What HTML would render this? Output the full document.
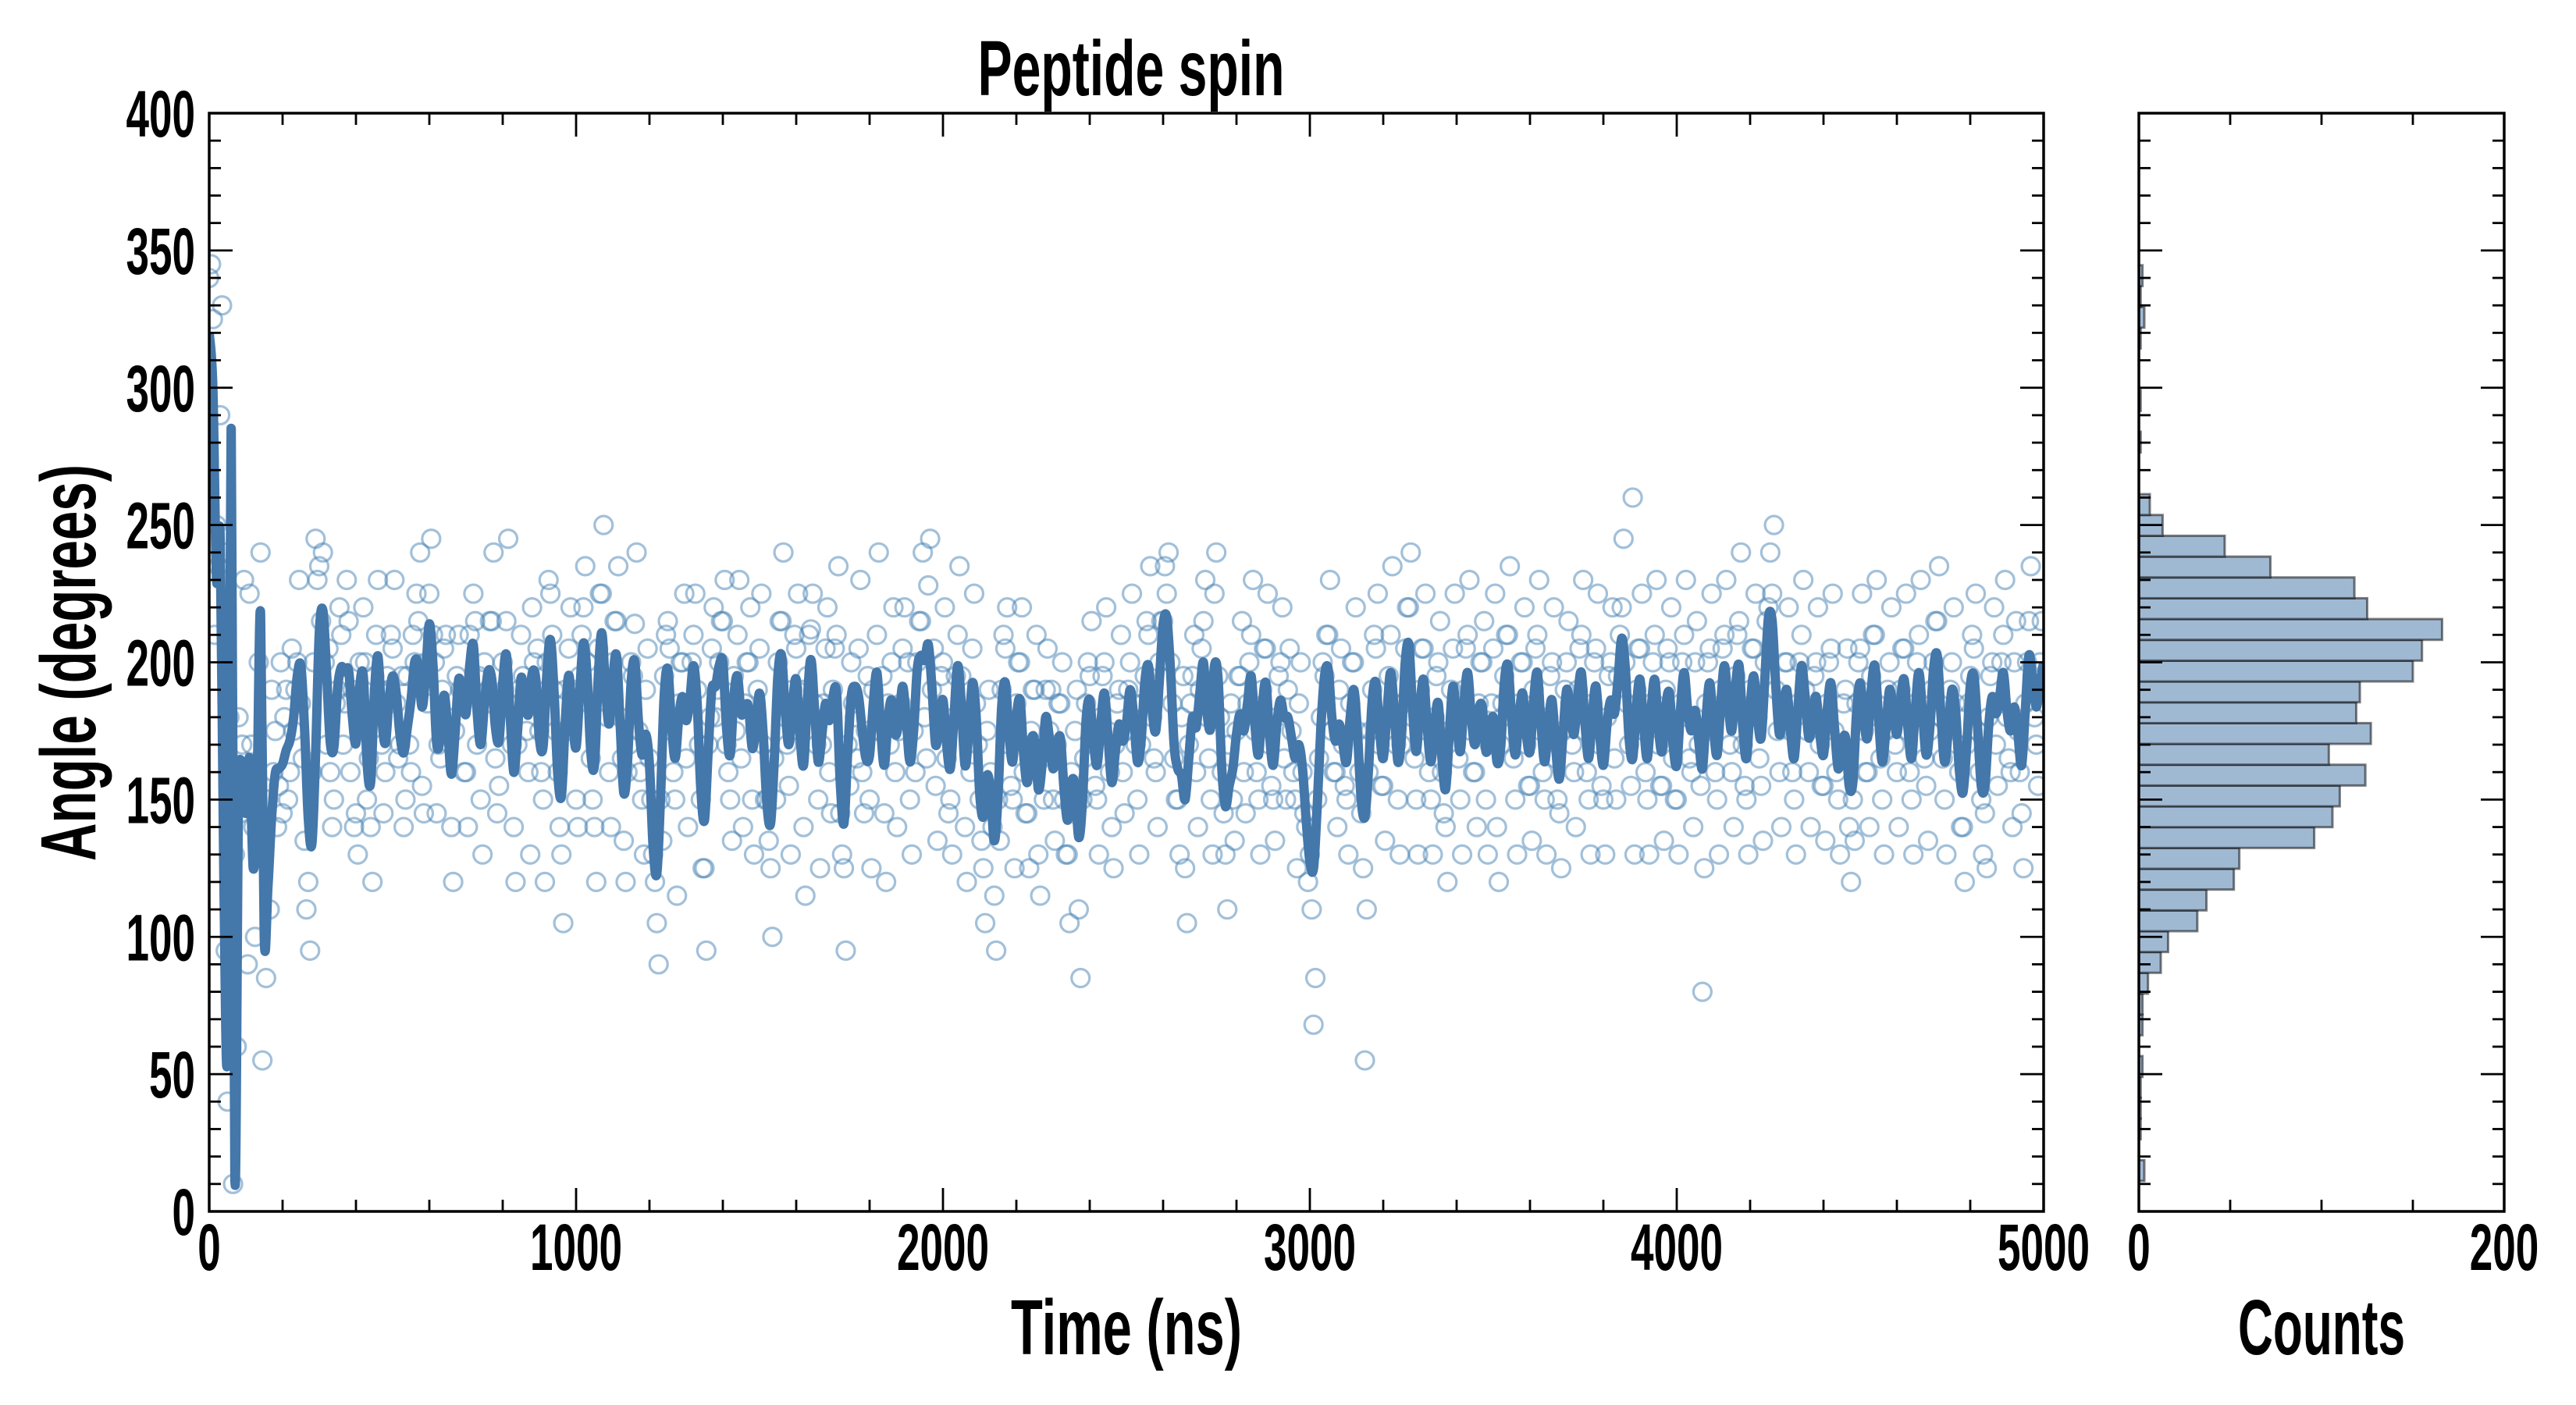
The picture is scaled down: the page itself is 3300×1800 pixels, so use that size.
<!DOCTYPE html>
<html><head><meta charset="utf-8"><title>Peptide spin</title>
<style>
html,body{margin:0;padding:0;background:#fff;}
svg{display:block;}
text{font-family:"Liberation Sans Narrow","Liberation Sans",sans-serif;font-weight:bold;fill:#000;}
</style></head>
<body>
<svg id="chart" width="3300" height="1800" viewBox="0 0 3300 1800" xmlns="http://www.w3.org/2000/svg">
<defs><clipPath id="mainclip"><rect x="268" y="145" width="2350" height="1407"/></clipPath></defs>
<text x="1449" y="122" font-size="100" text-anchor="middle" textLength="393" lengthAdjust="spacingAndGlyphs">Peptide spin</text>
<text x="1443" y="1735" font-size="100" text-anchor="middle" textLength="296" lengthAdjust="spacingAndGlyphs">Time (ns)</text>
<text transform="translate(122,849) rotate(-90)" x="0" y="0" font-size="100" text-anchor="middle" textLength="508" lengthAdjust="spacingAndGlyphs">Angle (degrees)</text>
<text x="2974" y="1735" font-size="100" text-anchor="middle" textLength="214" lengthAdjust="spacingAndGlyphs">Counts</text>
<g id="mainG"></g>
<g id="histG"></g>
</svg>
<script>
const lineStep = 10;
const lineValues = [
320,300,230,245,120,60,285,12,150,160,
145,165,125,150,218,100,112,148,165,160,
160,172,168,178,195,212,175,140,118,160,
228,226,195,168,152,205,200,188,210,180,
152,198,216,150,140,195,222,170,160,192,
200,188,178,150,190,175,205,215,160,200,
222,212,150,170,200,182,140,175,205,190,
165,205,220,180,150,200,188,210,168,160,
198,214,185,140,175,206,190,160,214,195,
172,150,205,220,188,160,130,185,208,180,
150,196,216,200,165,140,205,224,190,160,
200,215,180,135,160,198,214,175,150,190,
165,130,106,150,195,210,175,150,185,200,
165,185,210,190,150,125,170,205,180,200,
215,170,150,195,210,165,185,200,150,175,
205,170,150,125,165,200,215,180,155,190,
205,175,140,195,212,185,150,170,205,160,
190,210,145,125,170,200,180,205,160,175,
150,190,210,175,145,185,200,160,175,205,
180,150,175,200,215,180,228,190,155,180,
200,165,150,180,210,195,140,175,205,185,
150,125,175,160,115,150,190,205,170,150,
185,200,160,145,175,190,130,165,190,175,
150,170,185,150,130,160,175,110,150,185,
195,170,150,180,200,175,140,170,190,160,
175,200,185,150,170,195,210,180,160,200,
215,225,200,165,150,180,125,170,195,160,
190,215,180,150,225,195,160,130,170,150,
175,195,160,185,210,175,150,190,205,170,
150,180,200,165,190,175,150,185,160,140,
130,110,150,180,195,210,175,160,190,170,
150,185,200,175,145,135,160,190,205,170,
155,180,210,185,150,170,205,220,180,150,
190,205,175,150,180,200,160,140,175,205,
180,150,190,210,175,160,185,200,150,170,
205,140,170,195,210,180,150,185,200,170,
155,190,210,175,150,180,200,165,145,175,
200,185,160,190,210,175,150,185,205,170,
150,180,200,165,195,220,200,170,150,190,
205,175,150,185,210,170,155,190,200,165,
150,185,210,180,160,200,170,145,185,205,
175,150,190,210,185,160,195,215,170,150,
190,205,180,155,200,220,225,190,160,185,
200,175,150,185,210,190,160,180,200,170,
155,185,205,175,150,170,190,140,150,185,
205,175,160,195,210,180,150,175,200,185,
160,190,205,175,150,185,210,180,155,175,
200,215,180,150,175,200,185,160,140,170,
195,205,175,150,145,180,200,170,185,210,
180,160,200,175,145,185,215,195,170,200,
200];
const scatterStep = 5;
const scatterValues = [
340,345,325,210,250,235,290,330,240,95,40,180,150,10,130,60,180,145,170,230,
150,90,225,170,140,100,160,200,240,55,130,85,150,110,190,160,175,140,155,200,
145,180,190,150,160,205,175,190,200,230,185,165,135,110,120,95,160,200,245,230,
235,215,240,200,170,205,160,140,150,185,190,220,210,170,185,230,215,160,190,140,
145,130,200,175,220,200,150,165,140,120,195,210,230,190,170,145,160,195,190,210,
205,230,185,165,170,195,140,150,195,170,160,210,200,225,215,240,155,145,200,185,
225,245,210,200,145,170,165,190,205,210,180,175,140,120,175,195,210,190,185,160,
160,140,210,190,225,215,170,195,150,130,200,185,190,215,215,240,165,145,155,185,
200,190,215,245,185,170,140,120,170,190,210,195,185,175,160,130,220,200,190,205,
175,160,150,120,200,230,225,210,190,175,160,140,130,105,190,175,205,220,180,190,
150,140,195,210,220,235,200,185,165,150,140,120,205,225,225,250,190,180,160,140,
200,215,215,235,180,165,135,120,160,170,200,195,214,240,175,160,150,130,190,205,
165,150,130,120,105,90,150,135,195,210,215,205,175,160,150,115,185,200,200,225,
165,140,185,200,210,225,190,170,150,125,125,95,170,180,205,220,180,190,200,215,
215,230,170,160,150,135,195,175,210,230,165,140,185,200,200,220,150,130,175,190,
205,225,170,150,150,135,125,100,165,150,200,215,215,240,180,170,155,130,190,210,
205,225,175,190,140,115,195,210,212,225,185,170,150,125,170,185,205,220,160,145,
190,205,210,235,145,130,125,95,170,155,200,185,180,165,205,230,160,145,175,195,
150,125,190,175,210,240,175,195,145,120,185,170,200,220,160,140,175,185,205,220,
180,200,150,130,175,160,200,215,215,240,180,165,228,245,190,205,155,135,180,195,
200,220,165,145,150,130,180,195,210,235,195,180,140,120,175,160,205,225,185,170,
150,135,125,105,175,190,160,140,115,95,150,135,190,210,205,220,170,155,150,125,
185,200,200,220,160,145,145,125,175,190,190,210,130,115,165,150,190,205,175,190,
150,135,170,185,185,200,150,130,130,105,160,145,175,190,110,85,150,165,185,200,
195,215,170,155,150,130,180,195,200,220,175,160,140,125,170,185,190,210,160,145,
175,190,200,225,185,170,150,130,170,185,195,215,210,235,180,165,160,140,200,215,
215,235,225,240,200,185,165,150,150,130,180,195,125,105,170,185,195,210,160,140,
190,205,215,230,180,165,150,130,225,240,195,180,160,145,130,110,170,185,150,135,
175,195,195,215,160,145,185,200,210,230,175,160,150,130,190,205,205,225,170,155,
150,135,180,195,200,220,165,150,190,205,175,160,150,125,185,200,160,145,140,120,
130,110,68,85,150,165,180,200,195,210,210,230,175,160,160,140,190,205,170,155,
150,130,185,200,200,220,175,160,145,125,55,110,160,175,190,210,205,225,170,155,
155,135,180,195,210,235,185,170,150,130,170,185,205,220,220,240,180,165,150,130,
190,205,205,225,175,160,150,130,180,195,200,215,160,145,140,120,175,190,205,225,
180,165,150,130,190,205,210,230,175,160,160,140,185,200,200,215,150,130,170,185,
205,225,140,120,170,185,195,210,210,235,180,165,150,130,185,200,200,220,170,155,
155,135,190,205,210,230,175,160,150,130,180,195,200,220,165,150,145,125,175,190,
200,215,185,170,160,140,190,205,210,230,175,160,150,130,185,200,205,225,170,155,
150,130,180,195,200,220,165,150,195,210,220,245,200,185,170,155,260,130,190,205,
205,225,175,160,150,130,185,200,210,230,170,155,155,135,190,205,200,220,165,150,
150,130,185,200,210,230,180,165,160,140,200,215,170,155,80,125,185,200,205,225,
175,160,150,130,190,205,210,230,185,170,160,140,195,210,215,240,170,155,150,130,
190,205,205,225,180,165,155,135,200,215,220,240,225,250,190,175,160,140,185,200,
200,220,175,160,150,130,185,200,210,230,190,175,160,140,180,195,200,220,170,155,
155,135,185,200,205,225,175,160,150,130,170,185,190,205,140,120,150,135,185,200,
205,225,175,160,160,140,195,210,210,230,180,165,150,130,175,190,200,220,185,170,
160,140,190,205,205,225,175,160,150,130,185,200,210,230,180,165,155,135,175,190,
200,215,215,235,180,165,150,130,175,190,200,220,185,170,160,140,140,120,170,185,
195,210,205,225,175,160,150,130,145,125,180,195,200,220,170,155,185,200,210,230,
180,165,160,140,200,215,175,160,145,125,185,200,215,235,195,180,170,155,200,215];
const histBinStart = 11.1;
const histBinWidth = 7.58;
const histCounts = [3,0,1,1,1,2,0,2,2,5,12,16,32,37,52,55,96,106,110,124,104,127,119,121,150,155,166,125,118,72,47,13,6,0,0,1,0,1,0,0,1,3,1,2];
const xTicks = [0,1000,2000,3000,4000,5000];
const yTicks = [0,50,100,150,200,250,300,350,400];
const histXTicks = [0,200];

const NS = "http://www.w3.org/2000/svg";
const L = 268, R = 2618, T = 145, B = 1552;
const HL = 2740, HR = 3208;
const xScale = t => L + (t / 5000) * (R - L);
const yScale = v => B - (v / 400) * (B - T);
const hScale = c => HL + (c / 200) * (HR - HL);
function mk(tag, attrs, parent) {
  const e = document.createElementNS(NS, tag);
  for (const k in attrs) e.setAttribute(k, attrs[k]);
  parent.appendChild(e);
  return e;
}
const mainG = document.getElementById('mainG');
const histG = document.getElementById('histG');

const sg = mk('g', {'clip-path': 'url(#mainclip)'}, mainG);


scatterValues.forEach((v, i) => {
  const c = mk('circle', {cx: xScale(i * scatterStep), cy: yScale(v), r: 11.5, fill: 'none', stroke: 'rgba(70,130,180,0.5)', 'stroke-width': 3.2}, sg);
  
  
});

// smoothed line: 3-point moving average of lineValues (first 40 values kept raw for the volatile start)
const smooth = lineValues.map((v, i) => {
  if (i < 16 || i === lineValues.length - 1) return v;
  return (lineValues[i - 1] + 2 * v + lineValues[i + 1]) / 4;
});
const pts = smooth.map((v, i) => [xScale(i * lineStep), yScale(v)]);
let d = 'M' + pts[0][0].toFixed(1) + ',' + pts[0][1].toFixed(1);
for (let i = 0; i < pts.length - 1; i++) {
  const p0 = pts[Math.max(0, i - 1)], p1 = pts[i], p2 = pts[i + 1], p3 = pts[Math.min(pts.length - 1, i + 2)];
  const c1x = p1[0] + (p2[0] - p0[0]) / 6, c1y = p1[1] + (p2[1] - p0[1]) / 6;
  const c2x = p2[0] - (p3[0] - p1[0]) / 6, c2y = p2[1] - (p3[1] - p1[1]) / 6;
  d += 'C' + c1x.toFixed(1) + ',' + c1y.toFixed(1) + ' ' + c2x.toFixed(1) + ',' + c2y.toFixed(1) + ' ' + p2[0].toFixed(1) + ',' + p2[1].toFixed(1);
}
const ln = mk('path', {d: d, fill: 'none', stroke: '#4477aa', 'stroke-width': 12, 'stroke-linejoin': 'round', 'clip-path': 'url(#mainclip)'}, mainG);



histCounts.forEach((c, i) => {
  const lo = histBinStart + i * histBinWidth, hi = lo + histBinWidth;
  if (c <= 0) return;
  const b = mk('rect', {x: HL, y: yScale(hi), width: hScale(c) - HL, height: yScale(lo) - yScale(hi), fill: '#a0b9d3', stroke: 'rgba(0,0,0,0.5)', 'stroke-width': 3}, histG);
  
  
});

function frame(g, x0, x1) {
  const f = mk('rect', {x: x0, y: T, width: x1 - x0, height: B - T, fill: 'none', stroke: '#000', 'stroke-width': 3.5}, g);
  
  
}
function tick(g, x1, y1, x2, y2) {
  const t = mk('line', {x1: x1, y1: y1, x2: x2, y2: y2, stroke: '#000', 'stroke-width': 2.8}, g);
  
  
}
function label(g, x, y, s, anchor, name) {
  const t = mk('text', {x: x, y: y, 'font-size': 84, 'text-anchor': anchor, textLength: s.length * 29.5, lengthAdjust: 'spacingAndGlyphs'}, g);
  t.textContent = s;
  
  
}
for (let v = 0; v <= 400; v += 10) {
  const y = yScale(v), len = v % 50 === 0 ? 30 : 15;
  tick(mainG, L, y, L + len, y); tick(mainG, R, y, R - len, y);
  tick(histG, HL, y, HL + len, y); tick(histG, HR, y, HR - len, y);
}
for (let t = 0; t <= 5000; t += 200) {
  const x = xScale(t), len = t % 1000 === 0 ? 30 : 15;
  tick(mainG, x, B, x, B - len); tick(mainG, x, T, x, T + len);
}
for (let c = 0; c <= 200; c += 50) {
  const x = hScale(c), len = c % 200 === 0 ? 30 : 15;
  tick(histG, x, B, x, B - len); tick(histG, x, T, x, T + len);
}
frame(mainG, L, R);
frame(histG, HL, HR);
yTicks.forEach(v => label(mainG, 250, yScale(v) + 30, String(v), 'end', 'y-tick-label'));
xTicks.forEach(t => label(mainG, xScale(t), 1627, String(t), 'middle', 'x-tick-label'));
histXTicks.forEach(c => label(histG, hScale(c), 1627, String(c), 'middle', 'hist-x-tick-label'));
</script>
</body></html>
